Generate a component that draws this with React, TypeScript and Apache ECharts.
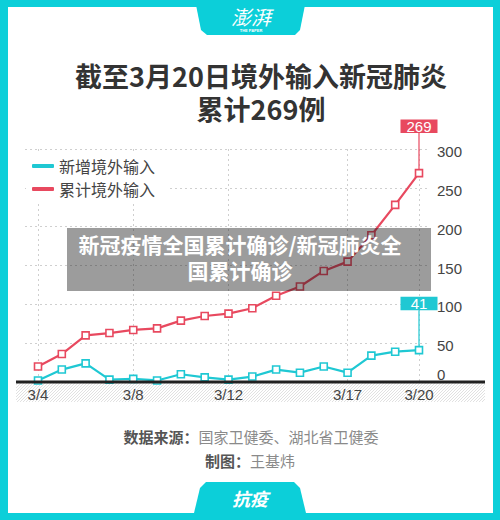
import React, { useEffect, useRef } from "react";
import * as echarts from "echarts";

const categories = ["3/4","3/5","3/6","3/7","3/8","3/9","3/10","3/11","3/12","3/13","3/14","3/15","3/16","3/17","3/18","3/19","3/20"];
const newImported = [2, 16, 24, 3, 4, 2, 10, 6, 3, 7, 16, 12, 20, 12, 34, 39, 41];
const totalImported = [20, 36, 60, 63, 67, 69, 79, 85, 88, 95, 111, 123, 143, 155, 189, 228, 269];
const shownXLabels = [0, 4, 8, 13, 16];
const yTicks = { min: 0, max: 300, interval: 50 };
const seriesNames = ["新增境外输入", "累计境外输入"];

const CYAN = "#1fc8d3";
const RED = "#e8495f";
const FRAME = "#0ccfd9";
const NUM_FONT = "'Liberation Sans', Arial, sans-serif";
const CJK_FONT = "'Noto Sans CJK SC', sans-serif";

export default function App() {
  const ref = useRef<HTMLDivElement>(null);
  useEffect(() => {
    document.body.style.margin = "0";
    if (!ref.current) return;
    const chart = echarts.init(ref.current, null, { renderer: "svg" });

    const hatch: any[] = [];
    const hx0 = 16, hx1 = 485, hyTop = 383, hyBot = 402, hh = hyBot - hyTop;
    for (let x = hx0 + 2; x < hx1 + hh; x += 3) {
      let bx = x - hh, by = hyBot, tx = x, ty = hyTop;
      if (bx < hx0) { by = hyBot - (hx0 - bx); bx = hx0; }
      if (tx > hx1) { ty = hyTop + (tx - hx1); tx = hx1; }
      if (by <= ty) continue;
      hatch.push({
        type: "line",
        z: -5,
        shape: { x1: bx, y1: by, x2: tx, y2: ty },
        style: { stroke: "#d9d9d9", lineWidth: 0.8 },
      });
    }

    const callColors = [RED, CYAN];
    const lastIdx = categories.length - 1;

    const option: any = {
      animation: false,
      backgroundColor: FRAME,
      grid: [
        { left: 25, right: 70, top: 149, bottom: 138 },
        { left: 38, right: 81, top: 149, bottom: 138 },
      ],
      legend: {
        data: [
          { name: seriesNames[0], itemStyle: { color: CYAN, borderWidth: 0 } },
          { name: seriesNames[1], itemStyle: { color: RED, borderWidth: 0 } },
        ],
        orient: "vertical",
        left: 26,
        top: 153,
        padding: [5, 14, 5, 6],
        itemGap: 7,
        itemWidth: 22,
        itemHeight: 4,
        icon: "roundRect",
        backgroundColor: "#ffffff",
        textStyle: { fontSize: 16, color: "#444", fontFamily: CJK_FONT },
        selectedMode: false,
      },
      xAxis: [
        { type: "value", gridIndex: 0, show: false, min: 0, max: 1 },
        {
          type: "category",
          gridIndex: 1,
          data: categories,
          boundaryGap: false,
          axisLine: { show: false },
          axisTick: { show: false },
          axisLabel: {
            interval: (i: number) => shownXLabels.includes(i),
            margin: 5,
            fontSize: 15,
            color: "#444",
            fontFamily: NUM_FONT,
          },
          splitLine: { show: true, lineStyle: { color: "#cfcfcf", type: [2, 3], width: 1 } },
        },
      ],
      yAxis: [
        {
          type: "value",
          gridIndex: 0,
          position: "right",
          min: yTicks.min,
          max: yTicks.max,
          interval: yTicks.interval,
          axisLine: { show: false },
          axisTick: { show: false },
          axisLabel: {
            margin: 7,
            align: "left",
            formatter: (v: number) => (v === 0 ? "{z|0}" : "{n|" + v + "}"),
            rich: {
              n: { fontSize: 15, color: "#444", fontFamily: NUM_FONT, padding: [5, 0, 0, 0] },
              z: { fontSize: 15, color: "#444", fontFamily: NUM_FONT, padding: [0, 0, 15, 0] },
            },
          },
          splitLine: { show: true, lineStyle: { color: "#cfcfcf", type: [2, 3], width: 1 } },
        },
        {
          type: "value",
          gridIndex: 1,
          min: yTicks.min,
          max: yTicks.max,
          interval: yTicks.interval,
          show: false,
          splitLine: { show: false },
        },
      ],
      series: [
        {
          name: seriesNames[0],
          type: "line",
          xAxisIndex: 1,
          yAxisIndex: 1,
          data: newImported,
          symbol: "rect",
          symbolSize: 7,
          showAllSymbol: true,
          color: CYAN,
          lineStyle: { color: CYAN, width: 2.2 },
          itemStyle: { color: "#ffffff", borderColor: CYAN, borderWidth: 1.6 },
          z: 3,
        },
        {
          name: seriesNames[1],
          type: "line",
          xAxisIndex: 1,
          yAxisIndex: 1,
          data: totalImported,
          symbol: "rect",
          symbolSize: 7,
          showAllSymbol: true,
          color: RED,
          lineStyle: { color: RED, width: 2.2 },
          itemStyle: { color: "#ffffff", borderColor: RED, borderWidth: 1.6 },
          z: 3,
        },
        {
          type: "custom",
          xAxisIndex: 1,
          yAxisIndex: 1,
          clip: false,
          z: 4,
          data: [
            [lastIdx, totalImported[lastIdx]],
            [lastIdx, newImported[lastIdx]],
          ],
          renderItem: (params: any, api: any) => {
            const p = api.coord([api.value(0), api.value(1)]);
            const c = callColors[params.dataIndex];
            const x = p[0];
            const y = p[1];
            return {
              type: "group",
              children: [
                { type: "line", shape: { x1: x, y1: y - 4, x2: x, y2: y - 40 }, style: { stroke: c, lineWidth: 1.2 } },
                { type: "rect", shape: { x: x - 18.5, y: y - 53.5, width: 37, height: 13.5 }, style: { fill: c } },
                {
                  type: "text",
                  x: x,
                  y: y - 46.5,
                  style: {
                    text: String(api.value(1)),
                    fill: "#ffffff",
                    fontSize: 15,
                    fontFamily: NUM_FONT,
                    align: "center",
                    verticalAlign: "middle",
                  },
                },
              ],
            };
          },
        },
      ],
      graphic: [
        { type: "rect", z: -20, shape: { x: 8, y: 7, width: 485, height: 506 }, style: { fill: "#ffffff" } },
        {
          type: "polygon",
          z: 10,
          shape: { points: [[195, 0], [306, 0], [300, 30], [295, 35], [207, 35], [201, 30]] },
          style: { fill: FRAME },
        },
        {
          type: "text",
          z: 11,
          x: 251,
          y: 16,
          style: { text: "澎湃", fill: "#ffffff", fontSize: 20, fontFamily: CJK_FONT, fontStyle: "italic", align: "center", verticalAlign: "middle" },
        },
        {
          type: "text",
          z: 11,
          x: 251,
          y: 30.5,
          style: { text: "THE PAPER", fill: "#ffffff", fontSize: 4, fontWeight: "bold", fontFamily: NUM_FONT, align: "center", verticalAlign: "middle" },
        },
        {
          type: "polygon",
          z: 10,
          shape: { points: [[194, 513], [200, 488], [206, 482], [294, 482], [300, 488], [306, 513]] },
          style: { fill: FRAME },
        },
        {
          type: "text",
          z: 11,
          x: 250,
          y: 498,
          style: { text: "抗疫", fill: "#ffffff", fontSize: 18, fontWeight: "bold", fontStyle: "italic", fontFamily: CJK_FONT, align: "center", verticalAlign: "middle" },
        },
        {
          type: "text",
          z: 11,
          x: 261,
          y: 91.5,
          style: {
            text: "截至3月20日境外输入新冠肺炎\n累计269例",
            fill: "#333333",
            fontSize: 27,
            lineHeight: 33,
            fontWeight: "bold",
            fontFamily: CJK_FONT,
            align: "center",
            verticalAlign: "middle",
          },
        },
        ...hatch,
        { type: "line", z: 5, shape: { x1: 16, y1: 382, x2: 485, y2: 382 }, style: { stroke: "#222222", lineWidth: 3 } },
        {
          type: "text",
          z: 11,
          x: 251,
          y: 436,
          style: {
            text: "{b|数据来源：}{l|国家卫健委、湖北省卫健委}",
            align: "center",
            verticalAlign: "middle",
            rich: {
              b: { fontSize: 15, fontWeight: "bold", fill: "#555555", fontFamily: CJK_FONT },
              l: { fontSize: 15, fill: "#8a8a8a", fontFamily: CJK_FONT },
            },
          },
        },
        {
          type: "text",
          z: 11,
          x: 250,
          y: 460,
          style: {
            text: "{b|制图：}{l|王基炜}",
            align: "center",
            verticalAlign: "middle",
            rich: {
              b: { fontSize: 15, fontWeight: "bold", fill: "#555555", fontFamily: CJK_FONT },
              l: { fontSize: 15, fill: "#8a8a8a", fontFamily: CJK_FONT },
            },
          },
        },
        { type: "rect", z: 100, shape: { x: 67, y: 228, width: 364, height: 63 }, style: { fill: "rgba(20,20,20,0.42)" } },
        {
          type: "text",
          z: 101,
          x: 240,
          y: 257,
          style: {
            text: "新冠疫情全国累计确诊/新冠肺炎全\n国累计确诊",
            fill: "#ffffff",
            fontSize: 21,
            lineHeight: 26,
            fontWeight: "bold",
            fontFamily: CJK_FONT,
            align: "center",
            verticalAlign: "middle",
          },
        },
      ],
    };
    chart.setOption(option);
    return () => chart.dispose();
  }, []);
  return <div ref={ref} style={{ width: 500, height: 520 }} />;
}
